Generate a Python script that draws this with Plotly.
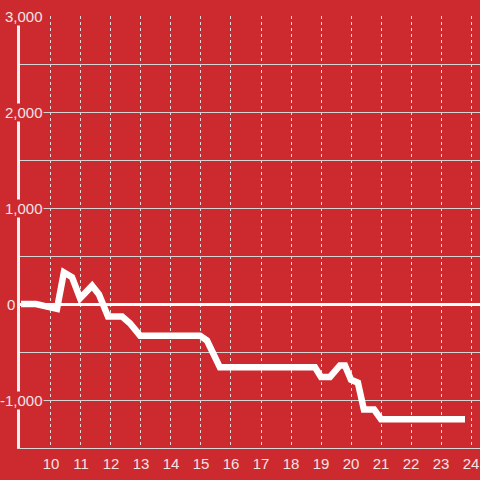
import plotly.graph_objects as go

hours = [9.0, 9.5, 10.2, 10.43, 10.7, 10.97, 11.37, 11.6, 11.9, 12.37, 12.63, 12.97,
         14.97, 15.2, 15.63, 18.8, 19.0, 19.3, 19.63, 19.8, 20.0, 20.23, 20.43, 20.77,
         21.0, 23.8]
values = [0, 0, -50, 330, 280, 60, 190, 100, -130, -130, -200, -330,
          -330, -380, -660, -660, -760, -760, -640, -640, -790, -820, -1100, -1100,
          -1200, -1200]

x_ticks = list(range(10, 25))
y_label_vals = [3000, 2000, 1000, 0, -1000]
y_label_text = ["3,000", "2,000", "1,000", "0", "-1,000"]

BG = "#CC2A2F"
TXT = "#F3E3E3"
FONT = "Liberation Sans, Arial, sans-serif"

fig = go.Figure()
fig.add_trace(go.Scatter(x=hours, y=values, mode="lines",
                         line=dict(color="white", width=6.5), hoverinfo="skip"))

fig.update_layout(
    width=480, height=480,
    margin=dict(l=20, r=0, t=16, b=32),
    paper_bgcolor=BG, plot_bgcolor=BG,
    showlegend=False,
    font=dict(family=FONT, size=14, color=TXT),
)
fig.update_xaxes(range=[8.967, 24.3], tickvals=x_ticks, ticks="",
                 showgrid=True, gridcolor="rgba(235,235,235,0.9)", gridwidth=1,
                 griddash="dot", showline=True, linecolor="#D8D8D8", linewidth=1,
                 zeroline=False, tickfont=dict(size=15, color=TXT), ticklabelstandoff=2)
fig.update_yaxes(range=[-1500, 3000], dtick=500, showticklabels=False, ticks="",
                 showgrid=True, gridcolor="#D4D4D4", gridwidth=1,
                 zeroline=True, zerolinecolor="white", zerolinewidth=3,
                 showline=True, linecolor="#F2F2F2", linewidth=3)

for v, t in zip(y_label_vals, y_label_text):
    right = 16 if v == 0 else 44
    fig.add_annotation(x=(right - 20) / 460, xref="paper", y=v, yref="y",
                       text=t, showarrow=False, xanchor="right", yanchor="middle",
                       bgcolor=BG if v != 0 else "rgba(0,0,0,0)", borderpad=0,
                       font=dict(size=15, color=TXT, family=FONT))

fig.write_html("out.html", config={"displayModeBar": False},
               post_script="document.body.style.margin='0';document.body.style.background='%s';" % BG)
